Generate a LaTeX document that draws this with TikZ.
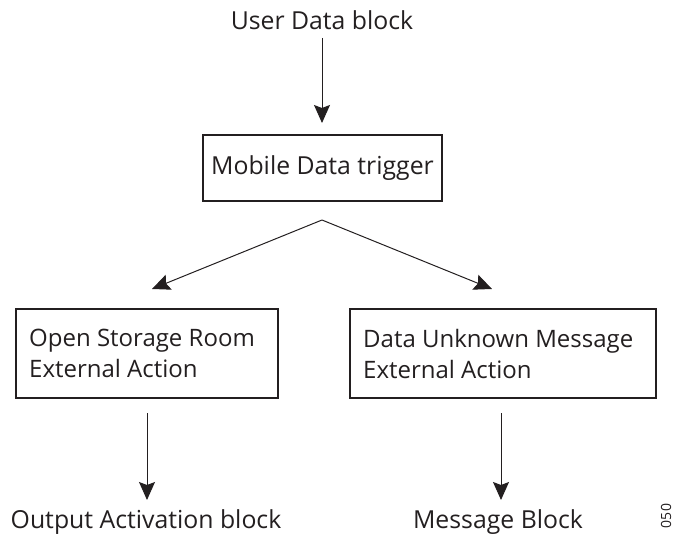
\documentclass[tikz,border=0pt]{standalone}
\usepackage{fontspec}
\setmainfont{Open Sans}
\usetikzlibrary{arrows.meta}
\definecolor{ink}{HTML}{231F20}
\tikzset{
  lbl/.style={inner sep=0pt, text=ink, font=\fontsize{24.8}{31}\selectfont},
  boxtxt/.style={inner sep=0pt, text=ink, align=left, anchor=west, font=\fontsize{24}{31}\selectfont},
  box/.style={draw=ink, line width=1.3pt, inner sep=0pt, text=ink, font=\fontsize{24.8}{31}\selectfont},
  arr/.style={draw=ink, line width=1pt, -{Stealth[length=18pt,width=16pt,inset=3pt]}}
}
\begin{document}
\begin{tikzpicture}[x=1pt,y=-1pt]
\useasboundingbox (0,0) rectangle (675,537);
\node[lbl] (top) at (322,20) {User Data block};
\node[box, minimum width=239pt, minimum height=66pt] (trig) at (322.5,168) {Mobile Data trigger};
\node[box, minimum width=262pt, minimum height=89pt] (left) at (147,353.5) {};
\node[boxtxt] (lefttxt) at (29,353.5) {Open Storage Room\\External Action};
\node[box, minimum width=306pt, minimum height=89pt] (right) at (503,353.5) {};
\node[boxtxt] (righttxt) at (363,353.5) {Data Unknown Message\\External Action};
\node[lbl] (out) at (146,522) {Output Activation block};
\node[lbl] (msg) at (498,522) {Message Block};
\node[inner sep=0pt, text=ink, font=\fontsize{14}{16}\selectfont, rotate=90] (code) at (666,516) {050};
\coordinate (a0) at (322,38);
\coordinate (a1) at (322,123);
\coordinate (sp) at (322,220);
\coordinate (lt) at (152,289);
\coordinate (rt) at (492,289);
\coordinate (l0) at (147,413);
\coordinate (l1) at (147,500);
\coordinate (r0) at (501,413);
\coordinate (r1) at (501,500);
\draw[arr] (a0) -- (a1);
\draw[arr] (sp) -- (lt);
\draw[arr] (sp) -- (rt);
\draw[arr] (l0) -- (l1);
\draw[arr] (r0) -- (r1);
\end{tikzpicture}
\end{document}
